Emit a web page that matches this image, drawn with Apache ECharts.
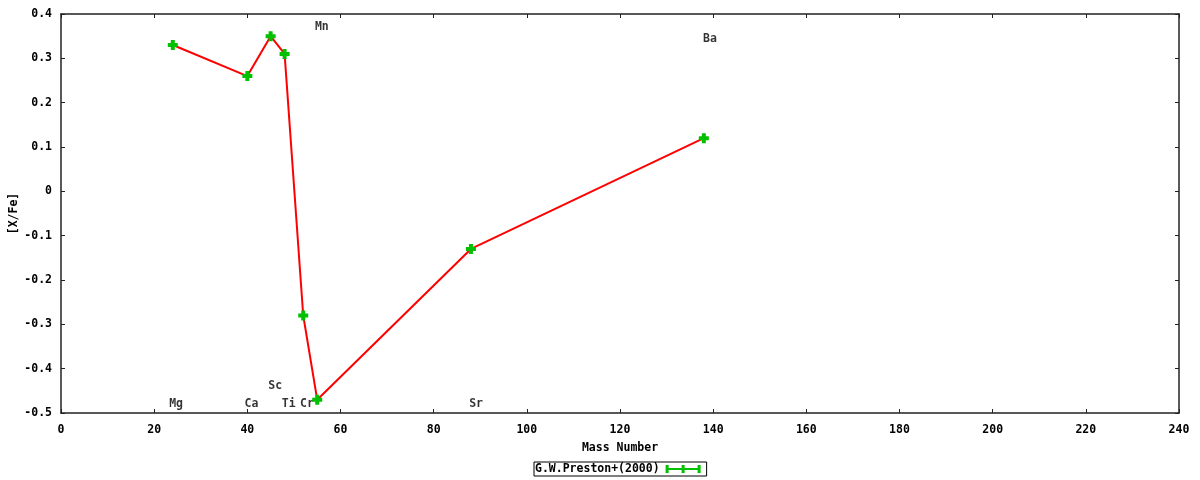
<!DOCTYPE html>
<html><head><meta charset="utf-8">
<script src="https://cdn.jsdelivr.net/npm/echarts@6/dist/echarts.min.js"></script>
<style>html,body{margin:0;padding:0;background:#fff}#c{width:1200px;height:480px}</style>
</head><body><div id="c"></div>
<script>
// Data
const massNumbers = [24, 40, 45, 48, 52, 55, 88, 138];
const xFeValues = [0.33, 0.26, 0.35, 0.31, -0.28, -0.47, -0.13, 0.12];
const labelNames = ['Mg', 'Ca', 'Sc', 'Ti', 'Cr', 'Mn', 'Sr', 'Ba'];
const labelX = [24.7, 40.9, 46, 48.9, 52.8, 56, 89.1, 139.3];
const labelY = [-0.48, -0.48, -0.44, -0.48, -0.48, 0.37, -0.48, 0.343];
const seriesName = 'G.W.Preston+(2000)';

const FONT = 'DejaVu Sans Mono';
const txt = {fontFamily: FONT, fontWeight: 'bold', fontSize: 11.5, color: '#000'};
const axisLine = {show: true, onZero: false, lineStyle: {color: '#222', width: 1.5}};
const tick = {show: true, inside: true, length: 4, lineStyle: {color: '#222', width: 1}};
const plus = 'path://M3,0H7V3H10V7H7V10H3V7H0V3H3Z';
const legendIcon = 'path://M0,0H3V3H16V0H19V3H32V0H35V8H32V5H19V8H16V5H3V8H0Z';

const chart = echarts.init(document.getElementById('c'));
chart.setOption({
  animation: false,
  backgroundColor: '#fff',
  grid: {left: 61, right: 21, top: 14, bottom: 67, containLabel: false, outerBoundsMode: 'none'},
  xAxis: [{
    type: 'value', min: 0, max: 240, interval: 20,
    name: 'Mass Number', nameLocation: 'middle', nameGap: 29, nameMoveOverlap: false, nameTextStyle: txt,
    axisLine: axisLine, axisTick: tick, splitLine: {show: false},
    axisLabel: Object.assign({margin: 11}, txt)
  }, {
    type: 'value', min: 0, max: 240, interval: 20, position: 'top',
    axisLine: axisLine, axisTick: tick, splitLine: {show: false}, axisLabel: {show: false}
  }],
  yAxis: [{
    type: 'value', min: -0.5, max: 0.4, interval: 0.1,
    name: '[X/Fe]', nameLocation: 'middle', nameRotate: 90, nameGap: 41, nameMoveOverlap: false, nameTextStyle: txt,
    axisLine: axisLine, axisTick: tick, splitLine: {show: false},
    axisLabel: Object.assign({margin: 9, formatter: v => {
      const r = Math.round(v * 10) / 10; return r === 0 ? '0' : r.toFixed(1);
    }}, txt)
  }, {
    type: 'value', min: -0.5, max: 0.4, interval: 0.1, position: 'right',
    axisLine: axisLine, axisTick: tick, splitLine: {show: false}, axisLabel: {show: false}
  }],
  legend: {
    bottom: 4, left: 534, align: 'right',
    data: [{name: seriesName, icon: legendIcon}],
    itemWidth: 35, itemHeight: 8, itemGap: 0,
    padding: [1, 6, 1, 1], borderColor: '#000', borderWidth: 1,
    textStyle: Object.assign({}, txt, {padding: [0, 1, 0, 0]})
  },
  series: [{
    name: seriesName, type: 'line',
    data: massNumbers.map((m, i) => [m, xFeValues[i]]),
    lineStyle: {color: '#ff0000', width: 2},
    itemStyle: {color: '#00c000'},
    symbol: plus, symbolSize: 10, showAllSymbol: true, z: 3
  }, {
    name: 'labels', type: 'scatter', symbolSize: 0, silent: true,
    data: labelNames.map((n, i) => ({value: [labelX[i], labelY[i]], name: n})),
    label: Object.assign({show: true, position: 'inside', formatter: p => p.name}, txt)
  }]
});
</script></body></html>
